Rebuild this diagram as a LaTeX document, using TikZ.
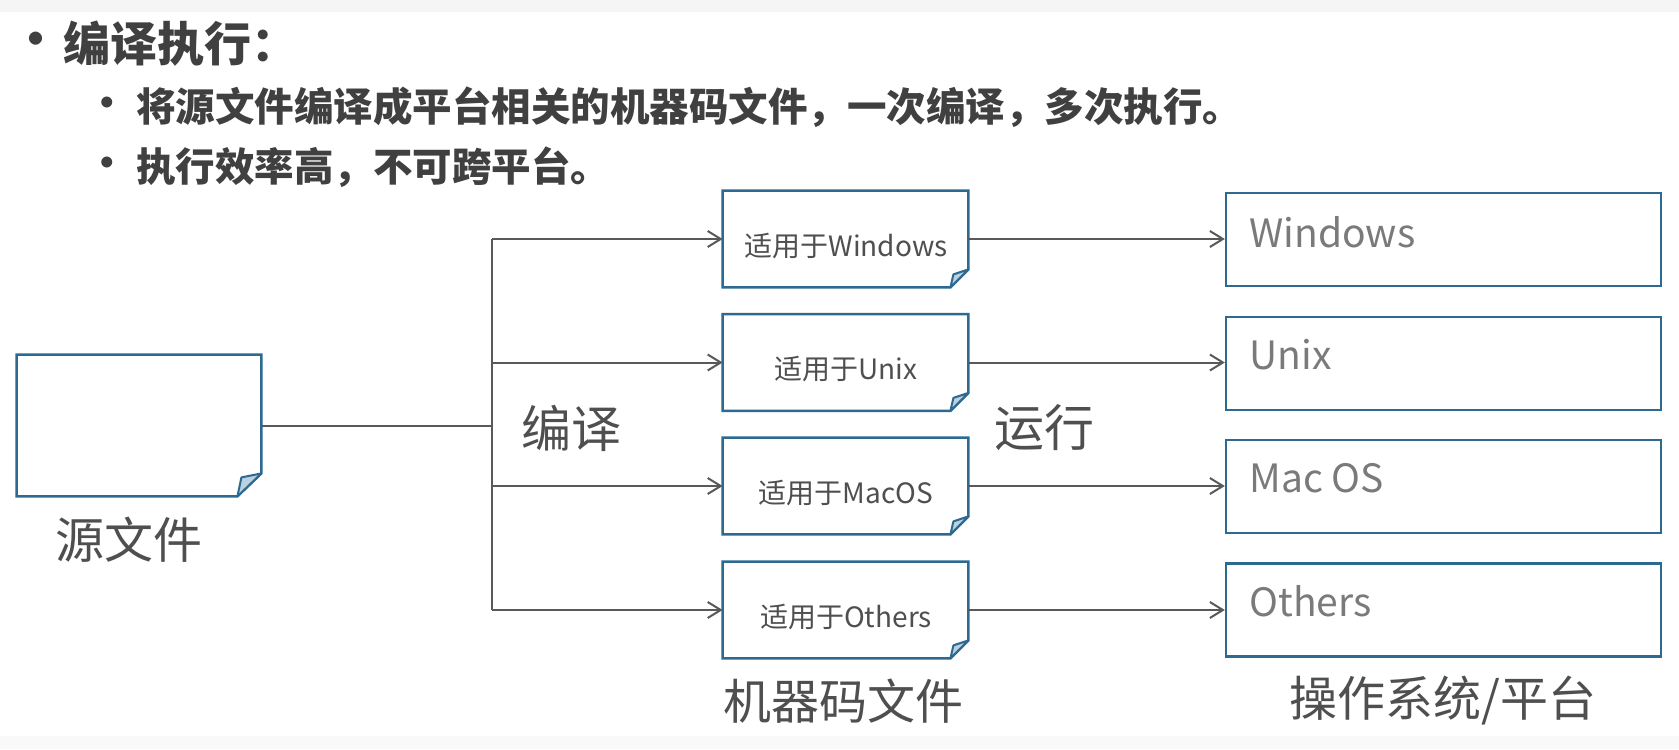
\documentclass[tikz,border=0pt]{standalone}
\usepackage{fontspec}
\newfontfamily\cjk{Noto Sans CJK SC}
\usetikzlibrary{arrows.meta,calc}
\definecolor{boxblue}{HTML}{2C6A92}
\definecolor{foldfill}{HTML}{BBD0E0}
\definecolor{linegray}{HTML}{595959}
\definecolor{txtdark}{HTML}{404040}
\definecolor{txtmid}{HTML}{4F4F4F}
\definecolor{txtlight}{HTML}{7A7A7A}
\definecolor{bandgray}{HTML}{F5F5F5}
\begin{document}
\begin{tikzpicture}[x=0.5pt,y=-0.5pt,font=\cjk,
  boxline/.style={draw=boxblue,line width=1.2pt,line join=miter},
  foldline/.style={draw=boxblue,line width=1pt,fill=foldfill,line join=round},
  srcbox/.style={inner sep=0pt,minimum width=122pt,minimum height=70.5pt},
  mbox/.style={inner sep=0pt,minimum width=122.5pt,minimum height=48pt},
  osbox/.style={inner sep=0pt,minimum width=217.5pt,minimum height=46.5pt,draw=boxblue,line width=1.2pt},
  wire/.style={draw=linegray,line width=1pt},
  arr/.style={wire,-{Straight Barb[length=6.5pt,width=8pt]}},
  title/.style={anchor=west,inner sep=0pt,text=txtdark,font=\cjk\bfseries\fontsize{23.5pt}{28pt}\selectfont},
  sub/.style={anchor=west,inner sep=0pt,text=txtdark,font=\cjk\bfseries\fontsize{19.75pt}{24pt}\selectfont},
  bul/.style={inner sep=0pt,text=txtdark},
  mtext/.style={inner sep=0pt,text=txtmid,font=\cjk\fontsize{14pt}{16pt}\selectfont},
  ostext/.style={anchor=base west,inner sep=0pt,text=txtlight,font=\cjk\fontsize{19.5pt}{23pt}\selectfont},
  biglabel/.style={inner sep=0pt,text=txtmid,font=\cjk\fontsize{24pt}{28pt}\selectfont}
]
% canvas
\useasboundingbox (0,0) rectangle (1679,749);
\fill[white] (0,0) rectangle (1679,749);
\fill[bandgray] (0,0) rectangle (1679,12);
\fill[bandgray!60!white] (0,736) rectangle (1679,749);

% bullet text
\node[bul,font=\cjk\bfseries\fontsize{23.5pt}{28pt}\selectfont] (b0) at (36,44) {•};
\node[title] (t0) at (63,44) {编译执行：};
\node[bul,font=\cjk\bfseries\fontsize{19.75pt}{24pt}\selectfont] (b1) at (107,107) {•};
\node[sub] (t1) at (136,107) {将源文件编译成平台相关的机器码文件，一次编译，多次执行。};
\node[bul,font=\cjk\bfseries\fontsize{19.75pt}{24pt}\selectfont] (b2) at (107,167) {•};
\node[sub] (t2) at (136,167) {执行效率高，不可跨平台。};

% source file
\node[srcbox] (src) at (139,425.5) {};
\node[biglabel,font=\cjk\fontsize{24.5pt}{28pt}\selectfont] (srcl) at (129,540) {源文件};

% machine code files
\node[mbox] (m1) at (845.5,239) {};
\node[mbox] (m2) at (845.5,362.5) {};
\node[mbox] (m3) at (845.5,486) {};
\node[mbox] (m4) at (845.5,610) {};
\node[mtext] (m1t) at (846,246) {适用于Windows};
\node[mtext] (m2t) at (846,369) {适用于Unix};
\node[mtext] (m3t) at (846,493) {适用于MacOS};
\node[mtext] (m4t) at (846,617) {适用于Others};

% document outlines with folded corner
\draw[boxline] (src.north west) -- (src.north east) -- ([yshift=11.5pt]src.south east)
  -- ([xshift=-12pt]src.south east) -- (src.south west) -- cycle;
\draw[foldline] ([xshift=-12pt]src.south east) -- ([xshift=-10pt,yshift=9.5pt]src.south east)
  -- ([yshift=11.5pt]src.south east) -- cycle;
\foreach \n in {m1,m2,m3,m4}{
  \draw[boxline] (\n.north west) -- (\n.north east) -- ([yshift=9pt]\n.south east)
    -- ([xshift=-9pt]\n.south east) -- (\n.south west) -- cycle;
  \draw[foldline] ([xshift=-9pt]\n.south east) -- ([xshift=-7.5pt,yshift=6.5pt]\n.south east)
    -- ([yshift=9pt]\n.south east) -- cycle;
}

% operating systems
\node[osbox] (o1) at (1443.5,239.5) {};
\node[osbox] (o2) at (1443.5,363.5) {};
\node[osbox] (o3) at (1443.5,486.5) {};
\node[osbox] (o4) at (1443.5,610) {};
\node[ostext] (o1t) at (1249,247) {Windows};
\node[ostext] (o2t) at (1249,369) {Unix};
\node[ostext] (o3t) at (1249,492) {Mac OS};
\node[ostext] (o4t) at (1249,616) {Others};

% connectors
\coordinate (vtop) at (492,239);
\coordinate (vbot) at (492,610);
\draw[wire] (src.east) -- (src.east -| vtop);
\draw[wire] (vtop) -- (vbot);
\foreach \n in {m1,m2,m3,m4}{
  \draw[arr] (\n.west -| vtop) -- (\n.west);
}
\draw[arr] (m1.east) -- (m1.east -| o1.west);
\draw[arr] (m2.east) -- (m2.east -| o2.west);
\draw[arr] (m3.east) -- (m3.east -| o3.west);
\draw[arr] (m4.east) -- (m4.east -| o4.west);

% stage labels
\node[biglabel,font=\cjk\fontsize{25pt}{28pt}\selectfont] (compile) at (571,428) {编译};
\node[biglabel,font=\cjk\fontsize{25pt}{28pt}\selectfont] (run) at (1044,428) {运行};
\node[biglabel] (mlabel) at (843,701) {机器码文件};
\node[biglabel] (olabel) at (1443,701) {操作系统/平台};
\end{tikzpicture}
\end{document}
